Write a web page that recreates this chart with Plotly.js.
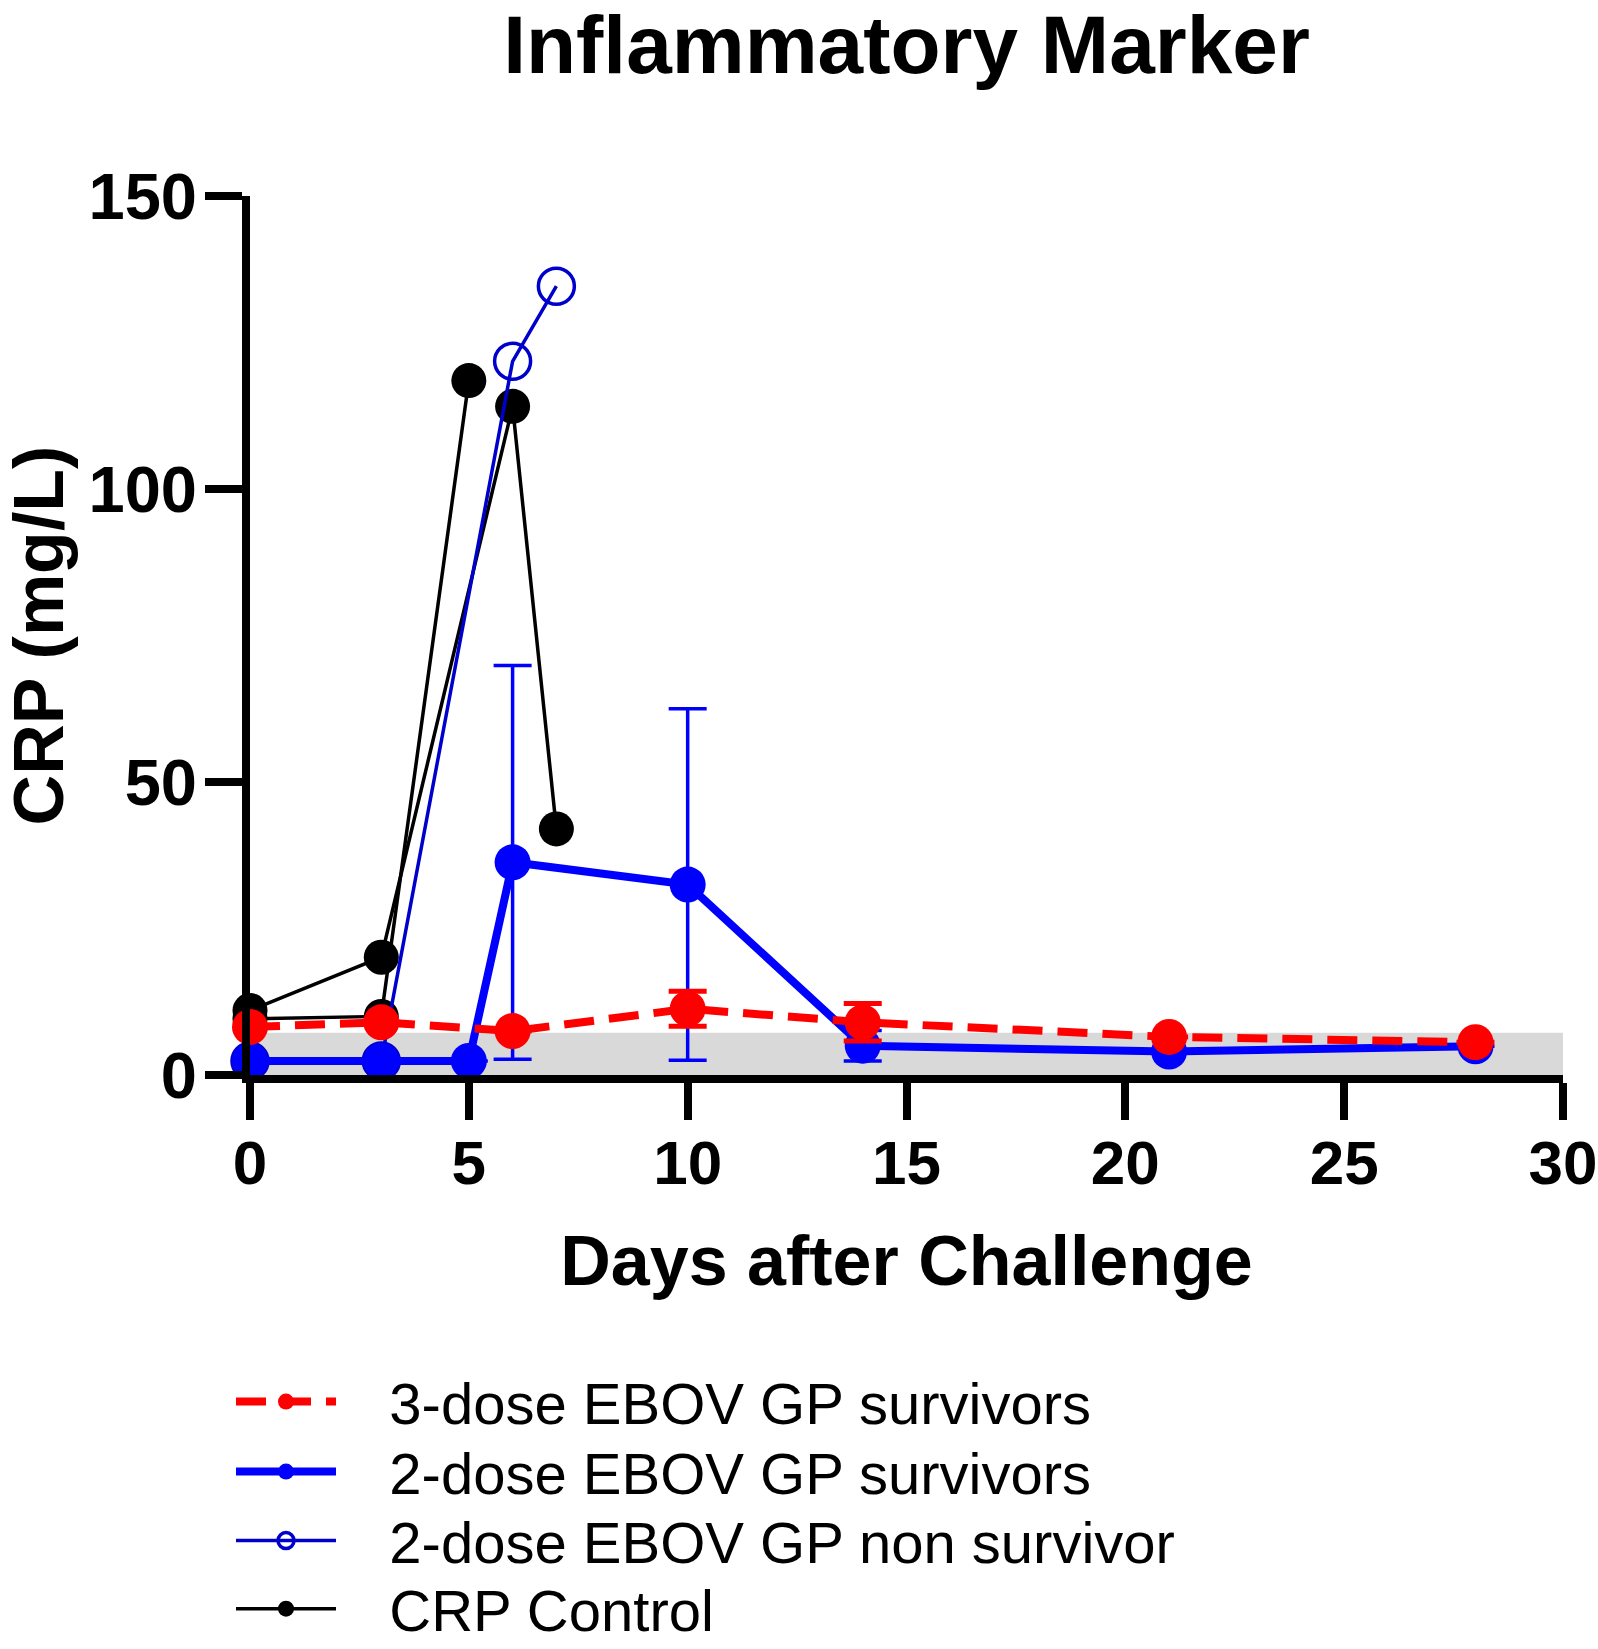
<!DOCTYPE html>
<html>
<head>
<meta charset="utf-8">
<script src="https://cdn.plot.ly/plotly-3.0.1.min.js"></script>
<style>html,body{margin:0;padding:0;background:#fff;}#chart{width:1598px;height:1649px;}</style>
</head>
<body>
<div id="chart"></div>
<script>
// ---- data ----
var xTickVals = [0, 5, 10, 15, 20, 25, 30];
var yTickVals = [0, 50, 100, 150];

var dose3Days = [0, 3, 6, 10, 14, 21, 28];
var dose3CRP  = [8.2, 9.0, 7.5, 11.3, 9.0, 6.5, 5.6];
var dose3Err  = [null, null, null, 3.0, 3.2, null, null];

var dose2Days = [0, 3, 5, 6, 10, 14, 21, 28];
var dose2CRP  = [2.4, 2.4, 2.4, 36.3, 32.5, 5.0, 4.0, 4.9];
var dose2Err  = [null, null, null, 33.6, 30.0, 2.6, null, null];

var nonSurvDays = [0, 3, 6, 7];
var nonSurvCRP  = [2.4, 2.4, 121.8, 134.6];

var ctrlADays = [0, 3, 6, 7];
var ctrlACRP  = [11.0, 20.1, 114.1, 42.0];
var ctrlBDays = [0, 3, 5];
var ctrlBCRP  = [9.6, 10.0, 118.5];

var normalRangeDays = [0, 30];
var normalRangeCRP  = [0, 7.2];

var names = ['3-dose EBOV GP survivors', '2-dose EBOV GP survivors',
             '2-dose EBOV GP non survivor', 'CRP Control'];

// ---- styling ----
var FONT = 'Liberation Sans, Arial, Helvetica, sans-serif';
var RED = '#FF0000', BLUE = '#0000FF', DBLUE = '#0000CC', BLACK = '#000000';
var PAD = '\u00A0\u00A0\u00A0';  // gap between legend symbol and label

var traces = [
  {
    x: ctrlADays, y: ctrlACRP, type: 'scatter', mode: 'lines+markers',
    name: PAD + names[3], legend: 'legend4', legendgroup: 'ctrl', showlegend: true,
    line: {color: BLACK, width: 3.5}, marker: {color: BLACK, size: 35},
    cliponaxis: false
  },
  {
    x: ctrlBDays, y: ctrlBCRP, type: 'scatter', mode: 'lines+markers',
    name: PAD + names[3], legend: 'legend4', legendgroup: 'ctrl', showlegend: false,
    line: {color: BLACK, width: 3.5}, marker: {color: BLACK, size: 35},
    cliponaxis: false
  },
  {
    x: nonSurvDays, y: nonSurvCRP, type: 'scatter', mode: 'lines+markers',
    name: PAD + names[2], legend: 'legend3',
    line: {color: DBLUE, width: 3.5},
    marker: {symbol: 'circle-open', color: DBLUE, size: 36, line: {width: 3.5, color: DBLUE}},
    cliponaxis: false
  },
  {
    x: dose2Days, y: dose2CRP, type: 'scatter', mode: 'lines+markers',
    name: PAD + names[1], legend: 'legend2',
    line: {color: BLUE, width: 8}, marker: {color: BLUE, size: 36},
    error_y: {type: 'data', array: dose2Err, visible: true, color: BLUE, thickness: 3.5, width: 19},
    cliponaxis: false
  },
  {
    x: dose3Days, y: dose3CRP, type: 'scatter', mode: 'lines+markers',
    name: PAD + names[0], legend: 'legend',
    line: {color: RED, width: 8, dash: '30px,15px'}, marker: {color: RED, size: 36},
    error_y: {type: 'data', array: dose3Err, visible: true, color: RED, thickness: 5, width: 19},
    cliponaxis: false
  }
];

var axisCommon = {
  showgrid: false, zeroline: false, showline: true, linewidth: 8, linecolor: BLACK,
  ticks: 'outside', ticklen: 37, tickwidth: 8, tickcolor: BLACK,
  fixedrange: true
};

function legendAt(yPaper) {
  return {
    orientation: 'v', x: (231 - 250) / 1313, xanchor: 'left', y: yPaper, yanchor: 'top',
    font: {family: FONT, size: 58, color: BLACK}, bgcolor: 'rgba(0,0,0,0)',
    itemwidth: 100, itemclick: false, itemdoubleclick: false
  };
}

var layout = {
  width: 1598, height: 1649,
  margin: {l: 250, r: 35, t: 196, b: 574, autoexpand: false},
  paper_bgcolor: '#ffffff', plot_bgcolor: '#ffffff',
  title: {
    text: 'Inflammatory Marker',
    font: {family: FONT, size: 82, weight: 'bold', color: BLACK},
    xref: 'paper', x: 0.5, xanchor: 'center',
    yref: 'container', y: 1 - 44 / 1649, yanchor: 'middle'
  },
  xaxis: Object.assign({}, axisCommon, {
    range: [0, 30], tickmode: 'array', tickvals: xTickVals,
    ticktext: xTickVals.map(String), ticklabelstandoff: -10,
    tickfont: {family: FONT, size: 62, weight: 'bold', color: BLACK},
    title: {text: 'Days after Challenge', font: {family: FONT, size: 70, weight: 'bold', color: BLACK}, standoff: 43}
  }),
  yaxis: Object.assign({}, axisCommon, {
    range: [0, 150], tickmode: 'array', tickvals: yTickVals,
    ticktext: yTickVals.map(String), ticklabelstandoff: -5,
    tickfont: {family: FONT, size: 65, weight: 'bold', color: BLACK},
    title: {text: 'CRP (mg/L)', font: {family: FONT, size: 70, weight: 'bold', color: BLACK}, standoff: 35}
  }),
  shapes: [{
    type: 'rect', xref: 'x', yref: 'y', layer: 'below',
    x0: normalRangeDays[0], x1: normalRangeDays[1],
    y0: normalRangeCRP[0], y1: normalRangeCRP[1],
    fillcolor: '#D9D9D9', line: {width: 0}
  }],
  showlegend: true,
  legend: legendAt(-0.3213),
  legend2: legendAt(-0.4009),
  legend3: legendAt(-0.4794),
  legend4: legendAt(-0.5568)
};

Plotly.newPlot('chart', traces, layout, {displayModeBar: false, staticPlot: true});
</script>
</body>
</html>
